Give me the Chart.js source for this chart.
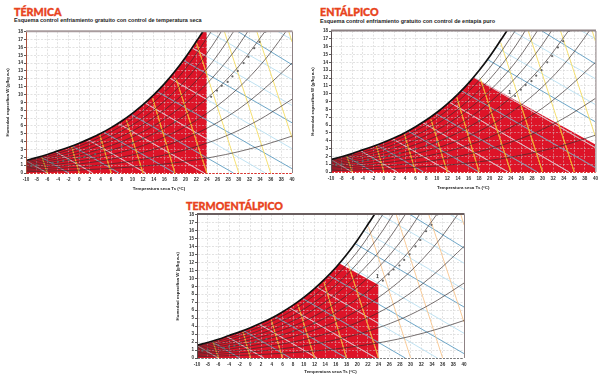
<!DOCTYPE html>
<html>
<head>
<meta charset="utf-8">
<script src="https://cdn.jsdelivr.net/npm/chart.js@4"></script>
<style>
  body { margin: 0; background: #fff; width: 600px; height: 380px; overflow: hidden; position: relative; }
  canvas { position: absolute; }
  .head { position: absolute; color: #e8431d; font: 900 10.7px Lato, "Liberation Sans", sans-serif; white-space: nowrap; -webkit-text-stroke: 0.35px #e8431d; }
  .sub { position: absolute; color: #222; font: bold 5.5px "Liberation Sans", sans-serif; white-space: nowrap; }
</style>
</head>
<body>
<div class="head" style="left:14px;top:5px">TÉRMICA</div>
<div class="sub" style="left:14px;top:17px">Esquema control enfriamiento gratuito con control de temperatura seca</div>
<canvas id="chartTermica" width="298" height="170" style="left:0;top:25px"></canvas>

<div class="head" style="left:320px;top:5px">ENTÁLPICO</div>
<div class="sub" style="left:320px;top:18px">Esquema control enfriamiento gratuito con control de entapía puro</div>
<canvas id="chartEntalpico" width="295" height="170" style="left:305px;top:25px"></canvas>

<div class="head" style="left:186px;top:199px">TERMOENTÁLPICO</div>
<canvas id="chartTermoentalpico" width="300" height="172" style="left:170px;top:208px"></canvas>

<script>
// axis ticks
const xTicks = [-10, -8, -6, -4, -2, 0, 2, 4, 6, 8, 10, 12, 14, 16, 18, 20, 22, 24, 26, 28, 30, 32, 34, 36, 38, 40];
const yTicks = [0, 1, 2, 3, 4, 5, 6, 7, 8, 9, 10, 11, 12, 13, 14, 15, 16, 17, 18];

// saturation curve
const satX = [-10, -8, -6, -4, -2, 0, 2, 4, 6, 8, 10, 12, 14, 16, 18, 20, 22, 23.4, 24];
const satY = [1.6, 1.95, 2.35, 2.82, 3.28, 3.8, 4.38, 5.02, 5.78, 6.63, 7.6, 8.7, 9.95, 11.35, 12.95, 14.75, 16.75, 18.2, 19];

// relative humidity curves, 10% to 90%
const rhX = [-10, -5, 0, 5, 10, 15, 20, 25, 30, 35, 40];
const rh10 = [0.16, 0.26, 0.38, 0.55, 0.77, 1.07, 1.48, 2.02, 2.72, 3.62, 4.7];
const rh20 = [0.32, 0.51, 0.76, 1.09, 1.53, 2.14, 2.96, 4.04, 5.44, 7.24, 9.4];
const rh30 = [0.48, 0.77, 1.14, 1.64, 2.3, 3.2, 4.44, 6.06, 8.16, 10.86, 14];
const rh40 = [0.64, 1.02, 1.52, 2.18, 3.06, 4.28, 5.92, 8.08, 10.88, 14.5, 19.1];
const rh50 = [0.8, 1.28, 1.9, 2.72, 3.82, 5.35, 7.4, 10.1, 13.6, 18.1];
const rh60 = [0.96, 1.53, 2.28, 3.27, 4.59, 6.42, 8.88, 12.1, 16.3, 21.7];
const rh70 = [1.12, 1.79, 2.66, 3.81, 5.35, 7.5, 10.36, 14.1, 19];
const rh80 = [1.28, 2.04, 3.04, 4.36, 6.12, 8.56, 11.84, 16.2, 21.8];
const rh90 = [1.44, 2.3, 3.42, 4.9, 6.88, 9.63, 13.3, 18.2];
const rhCurves = [rh10, rh20, rh30, rh40, rh50, rh60, rh70, rh80, rh90];

// dots along the 50% curve
const dotX = [-9, -8, -5, -4, -3, -2, 0, 1, 2, 3, 6, 8, 10, 12, 15, 18, 21, 24.8, 25.9, 26.8, 27.9, 28.8, 29.8, 30.9, 31.8, 32.9, 33.9, 35];
const dotY = [0.9, 1, 1.28, 1.42, 1.55, 1.68, 1.9, 2.05, 2.2, 2.4, 2.95, 3.35, 3.82, 4.4, 5.35, 6.5, 7.9, 9.7, 10.5, 11.1, 11.6, 12.3, 13, 14, 14.8, 15.9, 16.7, 18];

// enthalpy lines as [x start, y start, x end, y end]
const blueDark = [
  [29.9, 18, 40, 13.8],
  [19.6, 14.35, 40, 6.4],
  [14.6, 10.4, 40, 0.55],
  [9.7, 7.5, 29, 0],
  [4.5, 5.25, 18, 0],
  [-1.4, 3.48, 7.5, 0],
  [-7.3, 2.07, -2, 0]
];
const blueLight = [
  [37.4, 18, 40, 17],
  [24.3, 18, 40, 11.9],
  [21.3, 15.9, 40, 8.6],
  [17, 12.1, 40, 3.1],
  [12.3, 8.95, 35, 0],
  [7.1, 6.4, 23.5, 0],
  [1.5, 4.3, 12.5, 0],
  [-4.4, 2.7, 2.5, 0],
  [-10, 1.56, -6, 0]
];

// steep yellow lines, same format
const yellowLines = [
  [-7, 2.05, -6, 0],
  [-1.4, 3.3, 0, 0],
  [3.9, 4.8, 6, 0],
  [8.9, 6.7, 12, 0],
  [13.8, 9.5, 18, 0],
  [18.2, 12, 24, 0],
  [22.1, 16.5, 30, 0],
  [27.3, 18, 36, 0],
  [33.4, 18, 40, 4.5],
  [39.4, 18, 40, 16.7]
];

// top edge of the red area for each scheme
const termicaEdgeX = [24, 24];
const termicaEdgeY = [19, 0];
const entalpicoEdgeX = [17, 40];
const entalpicoEdgeY = [12.1, 3.5];
const termoEdgeX = [16.7, 24, 24];
const termoEdgeY = [11.85, 9.15, 0];

// small mark next to the dotted curve
const markX = 23.8;
const markY = 10;
const markText = '1';

const toPoints = (xs, ys) => xs.map((x, i) => ({ x: x, y: ys[i] })).filter(p => p.y !== undefined);
const linePoints = l => [{ x: l[0], y: l[1] }, { x: l[2], y: l[3] }];

// red area outline: saturation curve up to the edge, then the edge itself
function redOutline(lastSatX, edgeX, edgeY) {
  const curve = toPoints(satX, satY).filter(p => p.x <= lastSatX);
  return curve.concat(toPoints(edgeX, edgeY));
}

// frame around the plot, and the little mark
const plotFrame = {
  id: 'plotFrame',
  afterDraw(chart, args, opts) {
    const { ctx, chartArea: a, scales } = chart;
    ctx.save();
    ctx.strokeStyle = opts.top;
    ctx.lineWidth = 2;
    ctx.beginPath();
    ctx.moveTo(a.left, a.top - 0.5);
    ctx.lineTo(a.right + 0.5, a.top - 0.5);
    ctx.stroke();
    ctx.strokeStyle = opts.right;
    ctx.lineWidth = 1;
    ctx.beginPath();
    ctx.moveTo(a.right + 0.5, a.top);
    ctx.lineTo(a.right + 0.5, a.bottom);
    ctx.stroke();
    if (opts.mark) {
      ctx.fillStyle = '#333';
      ctx.font = 'bold 5px "Liberation Sans"';
      ctx.textAlign = 'center';
      ctx.fillText(markText, scales.x.getPixelForValue(markX), scales.y.getPixelForValue(markY));
    }
    ctx.restore();
  }
};

// lines flagged redOnly are clipped to the red polygon,
// and the grid gets painted again right after the red fill
const redClip = {
  id: 'redClip',
  beforeDatasetDraw(chart, args) {
    const ds = chart.data.datasets[args.index];
    if (!ds.redOnly) return;
    const { ctx, scales } = chart;
    const last = ds.redOnly[ds.redOnly.length - 1];
    ctx.save();
    ctx.beginPath();
    ds.redOnly.forEach((p, i) => {
      const px = scales.x.getPixelForValue(p.x);
      const py = scales.y.getPixelForValue(p.y);
      if (i === 0) ctx.moveTo(px, py); else ctx.lineTo(px, py);
    });
    ctx.lineTo(scales.x.getPixelForValue(last.x), scales.y.getPixelForValue(0));
    ctx.lineTo(scales.x.getPixelForValue(ds.redOnly[0].x), scales.y.getPixelForValue(0));
    ctx.closePath();
    ctx.clip();
  },
  afterDatasetDraw(chart, args) {
    const ds = chart.data.datasets[args.index];
    if (ds.redOnly) chart.ctx.restore();
    if (ds.isRedFill) {
      chart.scales.x.drawGrid(chart.chartArea);
      chart.scales.y.drawGrid(chart.chartArea);
    }
  }
};

function straight(l, color, width, order) {
  return { data: linePoints(l), showLine: true, pointRadius: 0, borderColor: color, borderWidth: width, order: order };
}

function makeChart(id, cfg) {
  const outline = cfg.outline;
  const datasets = [];
  datasets.push({ data: outline, showLine: true, pointRadius: 0, borderWidth: 0, backgroundColor: '#dd1428', fill: 'origin', order: 9, isRedFill: true });
  blueLight.forEach(l => {
    datasets.push(straight(l, '#b8dff0', 0.9, 8));
    datasets.push(Object.assign(straight(l, '#eda9ae', 0.9, 7), { redOnly: outline }));
  });
  blueDark.forEach(l => {
    datasets.push(straight(l, '#5f9dc2', 0.9, 6));
    datasets.push(Object.assign(straight(l, '#a18c9c', 1, 5), { redOnly: outline }));
  });
  yellowLines.forEach(l => {
    datasets.push(straight(l, cfg.yellow, 0.9, 4));
    datasets.push(Object.assign(straight(l, '#f0a42a', 1, 3), { redOnly: outline }));
  });
  rhCurves.forEach(ys => {
    datasets.push({ data: toPoints(rhX, ys), showLine: true, pointRadius: 0, borderColor: 'rgba(55,45,45,0.85)', borderWidth: 0.8, cubicInterpolationMode: 'monotone', order: 2 });
  });
  datasets.push({ data: toPoints(dotX, dotY), showLine: false, pointRadius: 1.1, backgroundColor: '#666', borderWidth: 0, order: 1 });
  datasets.push({ data: toPoints(satX, satY), showLine: true, pointRadius: 0, borderColor: '#111', borderWidth: 1.7, cubicInterpolationMode: 'monotone', order: 0 });

  const tickFont = { family: '"Liberation Sans"', size: 4.6, weight: 'bold' };
  const titleFont = { family: '"Liberation Sans"', size: 4.4, weight: 'bold' };
  const gridColor = 'rgba(215,215,215,0.6)';

  return new Chart(document.getElementById(id), {
    type: 'scatter',
    data: { datasets: datasets },
    plugins: [plotFrame, redClip],
    options: {
      responsive: false,
      animation: false,
      layout: { padding: { top: cfg.top, right: cfg.right, left: 0, bottom: cfg.under } },
      plugins: {
        legend: { display: false },
        tooltip: { enabled: false },
        plotFrame: { top: cfg.frameTop, right: cfg.frameRight, mark: cfg.mark }
      },
      scales: {
        x: {
          type: 'linear', min: -10, max: 40,
          afterBuildTicks: axis => { axis.ticks = xTicks.map(v => ({ value: v })); },
          afterFit: axis => { axis.height = cfg.bottom; },
          ticks: { font: tickFont, color: '#333', padding: 2, maxRotation: 0, autoSkip: false },
          grid: { color: gridColor, lineWidth: 0.8, tickColor: 'transparent', tickLength: 1.5 },
          border: { display: false, dash: [2, 1.5] },
          title: { display: true, text: 'Temperatura seca Ts (°C)', font: titleFont, color: '#222', padding: { top: 3, bottom: 0 } }
        },
        y: {
          type: 'linear', min: 0, max: 18,
          afterBuildTicks: axis => { axis.ticks = yTicks.map(v => ({ value: v })); },
          afterFit: axis => { axis.width = cfg.left; },
          ticks: { font: tickFont, color: '#333', padding: 1, autoSkip: false },
          grid: {
            color: c => (c.tick && c.tick.value === 0 ? cfg.frameBottom : gridColor),
            lineWidth: c => (c.tick && c.tick.value === 0 ? 1 : 0.8),
            tickColor: '#555', tickLength: 2
          },
          border: { color: cfg.frameLeft, width: 1, z: 2, dash: [2, 1.5] },
          title: { display: true, text: 'Humedad específica W (g/kg a.s)', font: titleFont, color: '#222', padding: { top: 5, bottom: 0 } }
        }
      }
    }
  });
}

makeChart('chartTermica', {
  outline: redOutline(23.4, termicaEdgeX, termicaEdgeY),
  left: 26, top: 6.7, right: 6, bottom: 18, under: 4,
  yellow: '#f4dc62', frameTop: '#a99c9e', frameRight: '#8d8183', frameLeft: '#a8503c', frameBottom: '#d8342f', mark: false
});
makeChart('chartEntalpico', {
  outline: redOutline(16, entalpicoEdgeX, entalpicoEdgeY),
  left: 26, top: 6, right: 4, bottom: 18, under: 5,
  yellow: '#f4dc62', frameTop: '#8d8183', frameRight: '#8d8183', frameLeft: '#5a5052', frameBottom: '#d8342f', mark: true
});
makeChart('chartTermoentalpico', {
  outline: redOutline(16, termoEdgeX, termoEdgeY),
  left: 27, top: 6.5, right: 6, bottom: 16, under: 6,
  yellow: '#f8c68e', frameTop: '#6a5f60', frameRight: '#8d8183', frameLeft: '#5a5052', frameBottom: '#777', mark: true
});
</script>
</body>
</html>
